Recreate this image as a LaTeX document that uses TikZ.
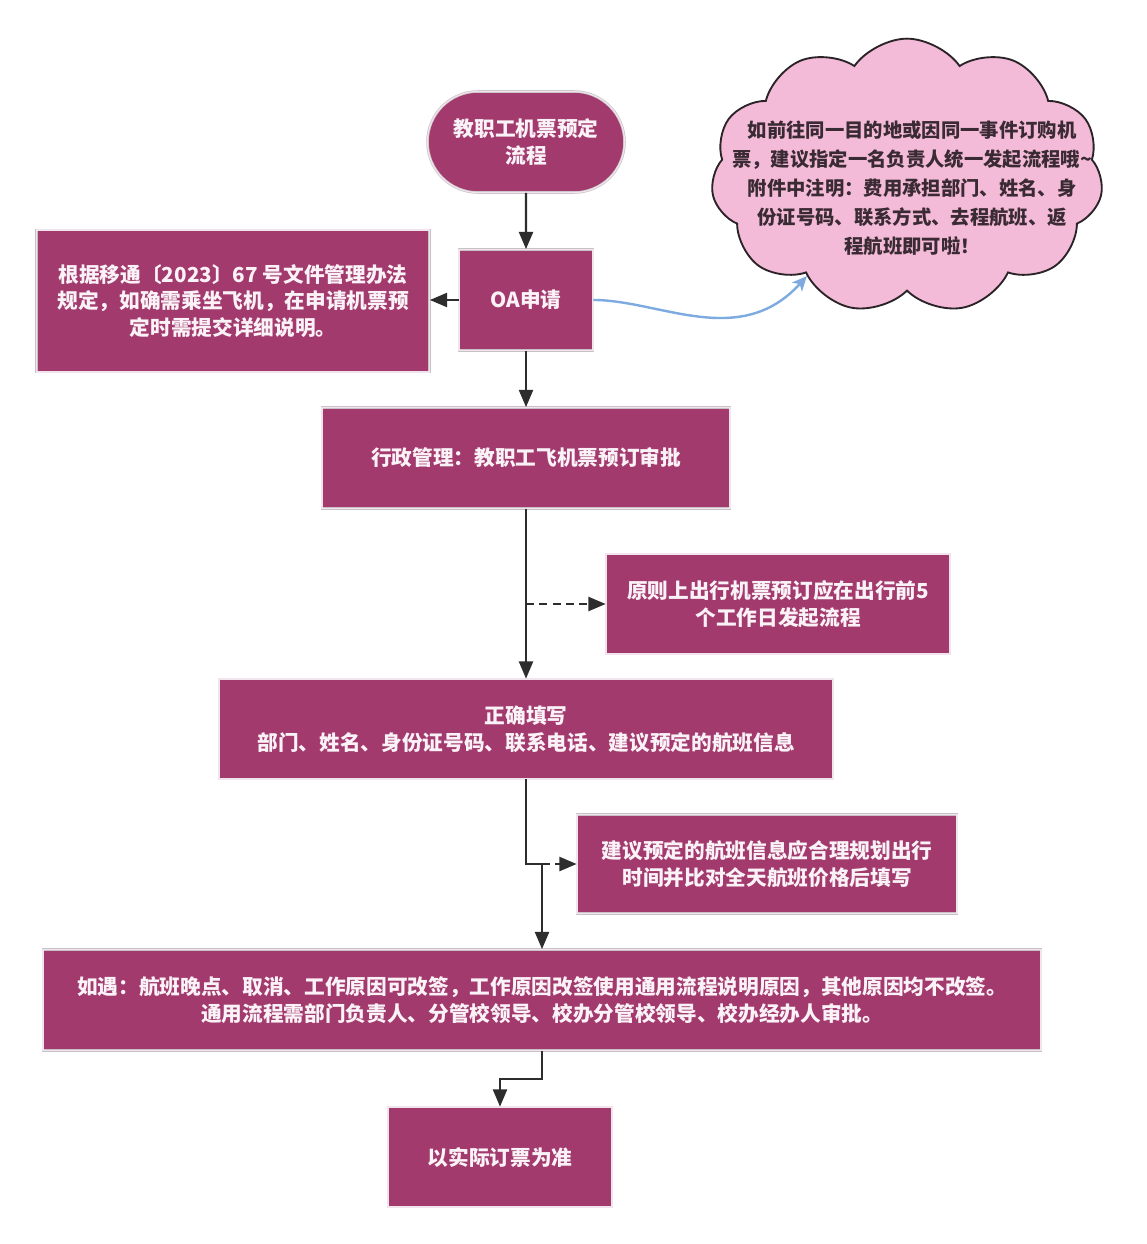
\documentclass[tikz,border=0pt]{standalone}
\usepackage{fontspec}
\setmainfont{Noto Sans CJK SC}
\usetikzlibrary{shapes.misc,shapes.symbols,arrows.meta,calc}
\definecolor{boxfill}{HTML}{A23A6E}
\definecolor{boxrim}{HTML}{C8C2C6}
\definecolor{boxinner}{HTML}{F2E4EC}
\definecolor{boxtext}{HTML}{FAF2F6}
\definecolor{cloudfill}{HTML}{F4BBD8}
\definecolor{cloudline}{HTML}{2A2328}
\definecolor{cloudtext}{HTML}{3A2A33}
\definecolor{linec}{HTML}{2D2D2D}
\definecolor{bluec}{HTML}{7DAAE1}
\begin{document}
\begin{tikzpicture}[x=0.75pt,y=-0.75pt,
  box/.style={rectangle, fill=boxfill, draw=boxrim, double=boxinner, double distance=0.9pt, line width=0.5pt,
    text=boxtext, align=center, inner sep=0pt, font=\fontsize{15.5}{20}\selectfont\bfseries},
  conn/.style={draw=linec, line width=1.8pt, -{Triangle[length=13pt,width=10.5pt]}},
  dconn/.style={conn, dash pattern=on 6pt off 4pt},
  blueconn/.style={draw=bluec, line width=1.8pt, -{Stealth[length=11pt,width=10pt,inset=3pt]}}
]
\useasboundingbox[fill=white] (0,0) rectangle (1146,1244);

\node[box, shape=rounded rectangle, minimum width=147.75pt, minimum height=75.75pt] (start) at (526,142) {教职工机票预定\\流程};
\node[box, minimum width=100.5pt, minimum height=75.75pt] (oa) at (526,300) {OA申请};
\node[box, minimum width=294.75pt, minimum height=106.5pt] (left) at (233,301) {根据移通〔2023〕67 号文件管理办法\\规定，如确需乘坐飞机，在申请机票预\\定时需提交详细说明。};
\node[box, minimum width=306pt, minimum height=75.75pt] (admin) at (526,458) {行政管理：教职工飞机票预订审批};
\node[box, minimum width=258pt, minimum height=75pt] (note1) at (778,604) {原则上出行机票预订应在出行前5\\个工作日发起流程};
\node[box, minimum width=460.5pt, minimum height=75pt] (fill) at (526,729) {正确填写\\部门、姓名、身份证号码、联系电话、建议预定的航班信息};
\node[box, minimum width=285pt, minimum height=74.25pt] (note2) at (767,864) {建议预定的航班信息应合理规划出行\\时间并比对全天航班价格后填写};
\node[box, minimum width=748.5pt, minimum height=75.75pt] (big) at (542,1000) {如遇：航班晚点、取消、工作原因可改签，工作原因改签使用通用流程说明原因，其他原因均不改签。\\通用流程需部门负责人、分管校领导、校办分管校领导、校办经办人审批。};
\node[box, minimum width=168pt, minimum height=75pt] (final) at (500,1157) {以实际订票为准};

\node[cloud, cloud puffs=11, cloud puff arc=110, cloud ignores aspect, aspect=1.4,
  minimum width=294pt, minimum height=206pt, inner sep=0pt,
  fill=cloudfill, draw=cloudline, line width=1.4pt] (cloud) at (907,176) {};
\node[text=cloudtext, align=center, inner sep=0pt, font=\fontsize{14.5}{21.75}\selectfont\bfseries] (cloudtxt) at (912,188)
  {如前往同一目的地或因同一事件订购机\\票，建议指定一名负责人统一发起流程哦\textasciitilde\\附件中注明：费用承担部门、姓名、身\\份证号码、联系方式、去程航班、返\\程航班即可啦！};

\draw[conn] (start) -- (oa);
\draw[conn] (oa) -- (oa.west -| left.east);
\draw[conn] (oa) -- (admin);
\draw[blueconn] (oa.east) .. controls (660,300) and (740,350) .. (cloud.225);
\draw[conn] (admin) -- (fill);
\draw[dconn] (admin.south |- note1.west) -- (note1.west);
\draw[conn] (fill.south) |- (big.north |- note2.west) -- (big.north);
\draw[dconn] (big.north |- note2.west) -- (note2.west);
\draw[conn] (big.south) |- ($(big.south)!0.5!(final.north)$) -| (final.north);
\end{tikzpicture}
\end{document}
